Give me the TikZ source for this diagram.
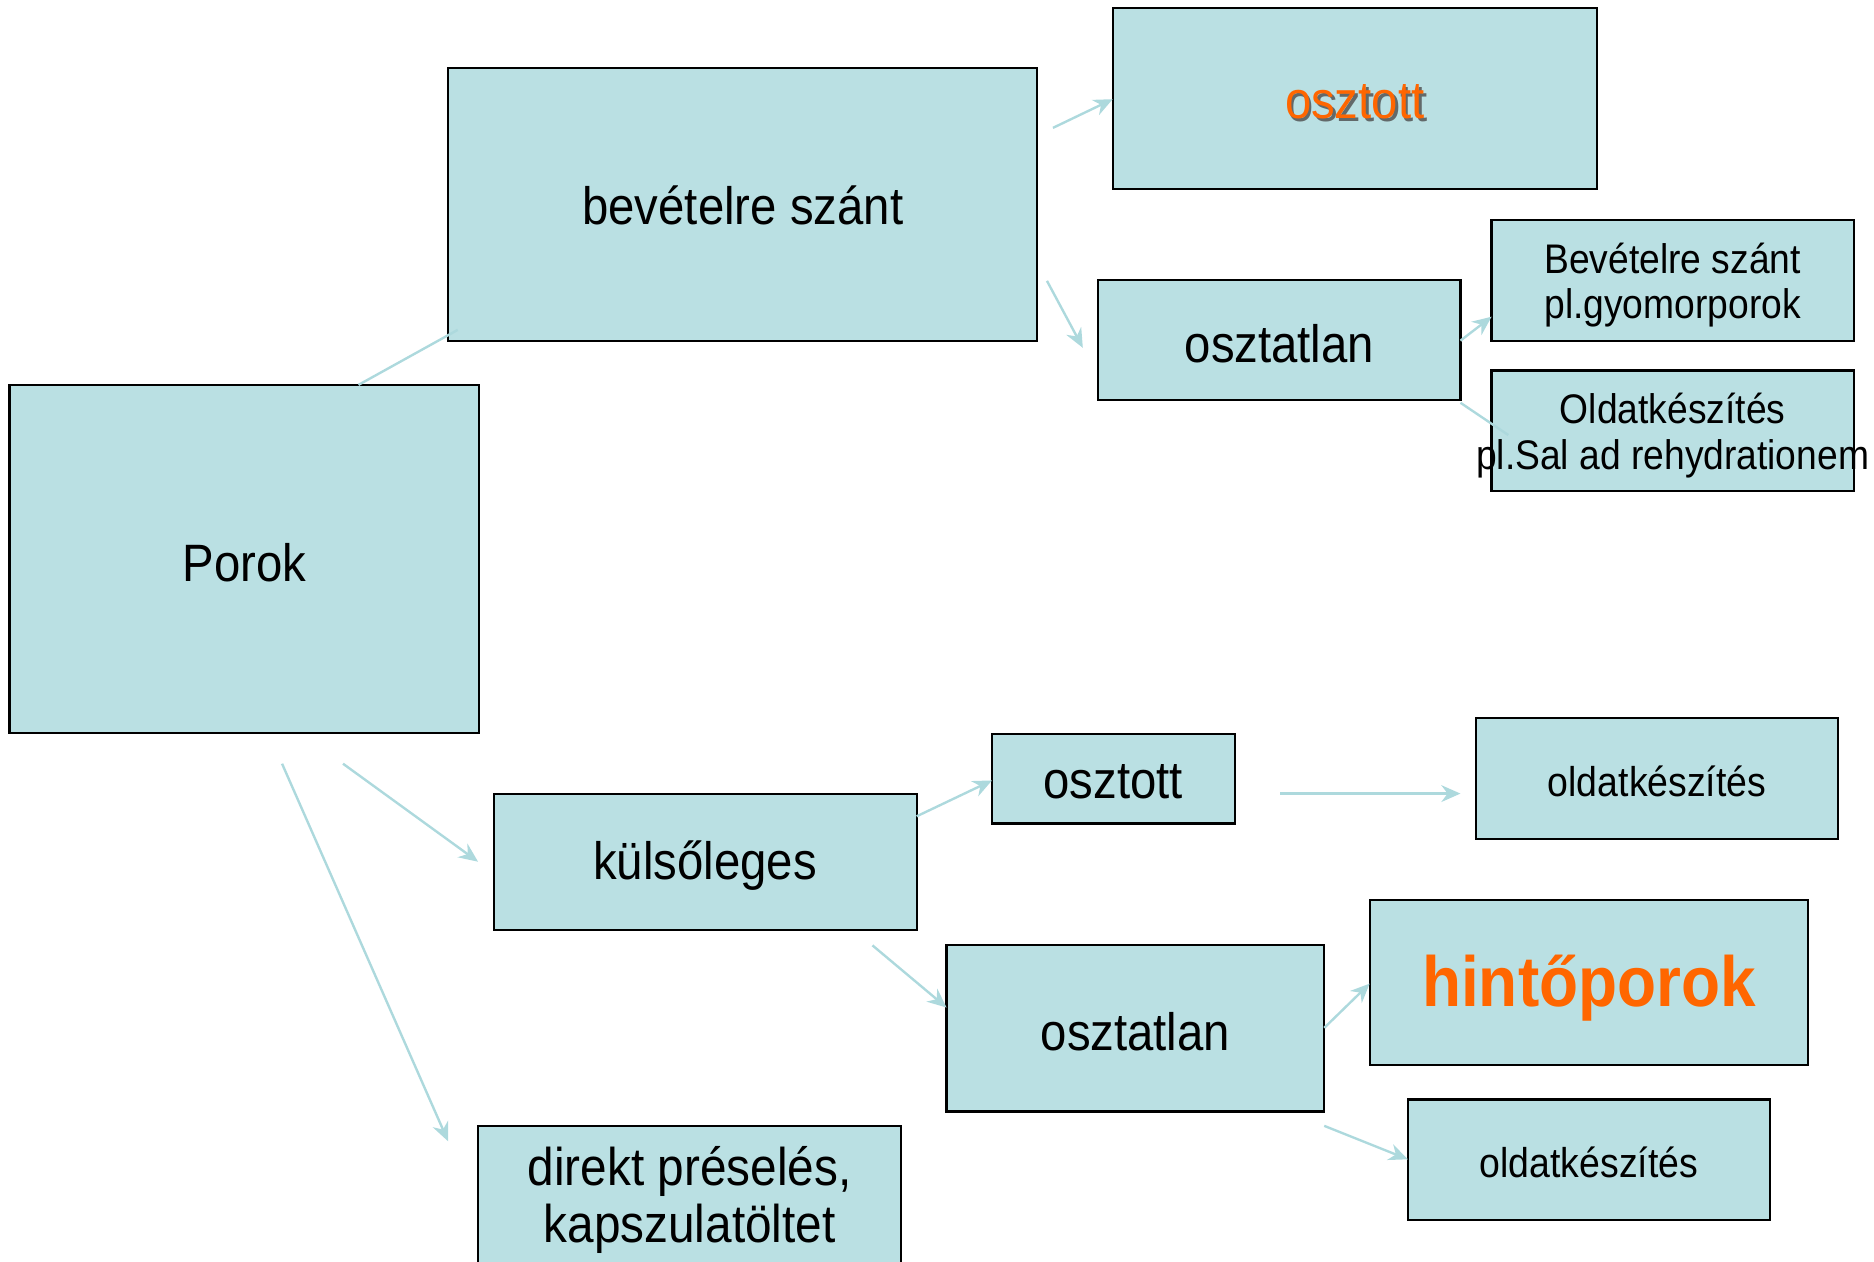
\documentclass[tikz,border=0pt]{standalone}
\usepackage{fontspec}
\setmainfont[FakeStretch=0.9]{Liberation Sans}
\usetikzlibrary{arrows.meta}
\definecolor{boxfill}{HTML}{BAE0E3}
\definecolor{arrowc}{HTML}{ADD9DD}
\definecolor{orangec}{HTML}{FF6600}
\begin{document}
\begin{tikzpicture}[x=0.5pt,y=-0.5pt,
  box/.style={draw=black,line width=0.9pt,fill=boxfill,inner sep=0pt},
  conn/.style={draw=arrowc,line width=1pt},
  arr/.style={conn,-{Stealth[length=8pt,width=7pt]}},
  big/.style={font=\fontsize{22}{26}\selectfont,yshift=-1.5pt},
  small/.style={font=\fontsize{17.3}{19}\selectfont,align=center,yshift=-2pt},
  mid/.style={font=\fontsize{17.4}{20}\selectfont,yshift=-1pt}]
\useasboundingbox (0,0) rectangle (1568,1055.1);
\begin{scope}
\clip (0,0) rectangle (1568,1055.1);
% boxes
\node[box,minimum width=493*0.5pt,minimum height=228*0.5pt] (bev) at (621.5,171) {};
\node[box,minimum width=405*0.5pt,minimum height=151*0.5pt] (osz1) at (1133.5,82.5) {};
\node[box,minimum width=303*0.5pt,minimum height=101*0.5pt] (ozl1) at (1070.5,284.5) {};
\node[box,minimum width=303*0.5pt,minimum height=101*0.5pt] (gyo) at (1399.5,234.5) {};
\node[box,minimum width=303*0.5pt,minimum height=101*0.5pt] (sal) at (1399.5,360.5) {};
\node[box,minimum width=393*0.5pt,minimum height=291*0.5pt] (por) at (204.5,467.5) {};
\node[box,minimum width=354*0.5pt,minimum height=114*0.5pt] (kul) at (590,721) {};
\node[box,minimum width=203*0.5pt,minimum height=75*0.5pt] (osz2) at (931.5,651.5) {};
\node[box,minimum width=303*0.5pt,minimum height=101*0.5pt] (old1) at (1386.5,651.5) {};
\node[box,minimum width=316*0.5pt,minimum height=139*0.5pt] (ozl2) at (950,860.5) {};
\node[box,minimum width=367*0.5pt,minimum height=138*0.5pt] (hin) at (1329.5,822) {};
\node[box,minimum width=303*0.5pt,minimum height=101*0.5pt] (old2) at (1329.5,970.5) {};
\node[box,minimum width=354*0.5pt,minimum height=140*0.5pt] (dir) at (577,1012) {};
\end{scope}
% texts
\node[big,yshift=1.2pt] (tbev) at (bev) {bevételre szánt};
\node[big,text=black!70,opacity=0.8] at ([xshift=1.2pt,yshift=-1.2pt]osz1.center) {osztott};
\node[big,text=orangec] (tosz1) at (osz1) {osztott};
\node[big] (tozl1) at (ozl1) {osztatlan};
\node[small] (tgyo) at (gyo) {Bevételre szánt\\pl.gyomorporok};
\node[small] (tsal) at (sal) {Oldatkészítés\\pl.Sal ad rehydrationem};
\node[big] (tpor) at (por) {Porok};
\node[big] (tkul) at (kul) {külsőleges};
\node[big] (tosz2) at (osz2) {osztott};
\node[mid] (told1) at (old1) {oldatkészítés};
\node[big] (tozl2) at (ozl2) {osztatlan};
\node[font=\fontsize{29.7}{32}\selectfont\bfseries,text=orangec,yshift=-2.5pt] (thin) at (hin) {hintőporok};
\node[mid] (told2) at (old2) {oldatkészítés};
\node[font=\fontsize{22.2}{23.5}\selectfont,align=center] (tdir) at (577,1004) {direkt préselés,\\kapszulatöltet};
% connector end points
\coordinate (a1) at (300,322);
\coordinate (a2) at (383,276);
\coordinate (b1) at (881,107);
\coordinate (b2) at (931,83);
\coordinate (c1) at (876,235);
\coordinate (c2) at (906,291);
\coordinate (d1) at (1222,285);
\coordinate (d2) at (1248,265);
\coordinate (e1) at (1222,337);
\coordinate (e2) at (1262,364);
\coordinate (f1) at (287,639);
\coordinate (f2) at (400,721);
\coordinate (g1) at (236,639);
\coordinate (g2) at (375,955);
\coordinate (h1) at (767,683);
\coordinate (h2) at (830,653);
\coordinate (i1) at (1071,664);
\coordinate (i2) at (1222,664);
\coordinate (j1) at (730,791);
\coordinate (j2) at (792,843);
\coordinate (k1) at (1108,860);
\coordinate (k2) at (1146,823);
\coordinate (l1) at (1108,942);
\coordinate (l2) at (1178,970);
% connectors
\draw[conn] (a1) -- (a2);
\draw[arr] (b1) -- (b2);
\draw[arr] (c1) -- (c2);
\draw[arr] (d1) -- (d2);
\draw[conn] (e1) -- (e2);
\draw[arr] (f1) -- (f2);
\draw[arr] (g1) -- (g2);
\draw[arr] (h1) -- (h2);
\draw[arr] (i1) -- (i2);
\draw[arr] (j1) -- (j2);
\draw[arr] (k1) -- (k2);
\draw[arr] (l1) -- (l2);
\end{tikzpicture}
\end{document}
